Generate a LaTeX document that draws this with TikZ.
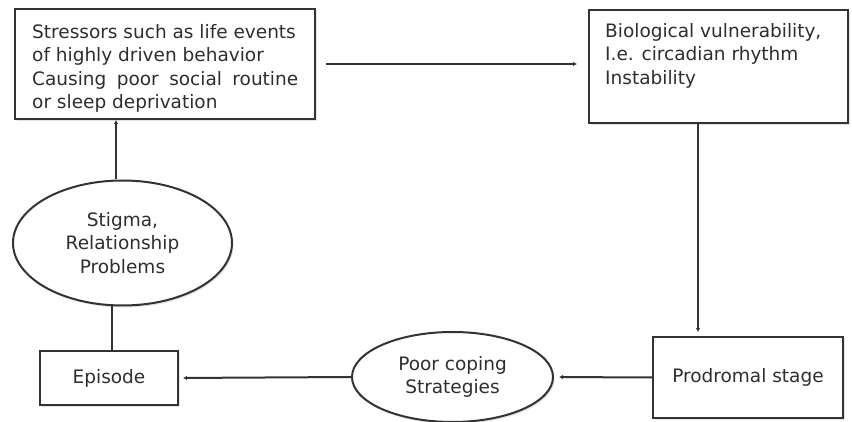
\documentclass[tikz,border=0pt]{standalone}
\usepackage{fontspec}
\setmainfont{DejaVu Sans}
\usetikzlibrary{shapes.geometric,shadows,arrows.meta}
\definecolor{ink}{HTML}{2E2E2E}
\definecolor{edge}{HTML}{333333}
\begin{document}
\begin{tikzpicture}[x=1pt,y=-1pt,
  font=\fontsize{18.5}{23.5}\selectfont, text=ink,
  shade/.style={drop shadow={opacity=0.22,shadow xshift=1.5pt,shadow yshift=-2pt}},
  box/.style={draw=edge, line width=2pt, fill=white, inner sep=0pt, shade},
  oval/.style={ellipse, draw=edge, line width=2pt, fill=white, inner sep=0pt, align=center, shade},
  txt/.style={anchor=north west, inner sep=0pt, align=left},
  link/.style={draw=edge, line width=2pt, -{Latex[length=4pt,width=4.5pt]}},
  plain/.style={draw=edge, line width=2pt}]
\path[use as bounding box] (0,0) rectangle (852,422);

% boxes and ovals of the cycle
\node[box, minimum width=300pt, minimum height=110pt] (stress) at (165,64) {};
\node[txt] (stresstext) at (32,24) {Stressors such as life events\\of highly driven behavior\\\hbox to 266pt{Causing\hfill poor\hfill social\hfill routine}\\or sleep deprivation};

\node[box, minimum width=259pt, minimum height=113pt] (bio) at (718.5,66.5) {};
\node[txt] (biotext) at (605,23) {Biological vulnerability,\\I.e. circadian rhythm\\Instability};

\node[box, minimum width=190pt, minimum height=81pt] (prod) at (748,377.5) {Prodromal stage};
\node[oval, minimum width=201pt, minimum height=90pt] (poor) at (452.5,377) {Poor coping\\Strategies};
\node[box, minimum width=138pt, minimum height=54pt] (epi) at (109,378) {Episode};
\node[oval, minimum width=219pt, minimum height=125pt] (stigma) at (122.5,243) {Stigma,\\Relationship\\Problems};

% connectors
\draw[link] ([xshift=10pt]stress.east) -- ([xshift=-11pt]stress.east -| bio.west);
\draw[link, shorten >=4pt] ([xshift=-20.5pt]bio.south) -- ([xshift=-20.5pt]bio.south |- prod.north);
\draw[link, shorten >=5pt] (prod.west) -- (poor.east);
\draw[link, shorten >=4pt] (poor.west) -- (epi.east);
\draw[plain] ([xshift=3pt]epi.north) -- ([xshift=3pt,yshift=1pt]epi.north |- stigma.south);
\draw[link] ([xshift=-6.5pt]stigma.north) -- ([xshift=-6.5pt]stigma.north |- stress.south);
\end{tikzpicture}
\end{document}
